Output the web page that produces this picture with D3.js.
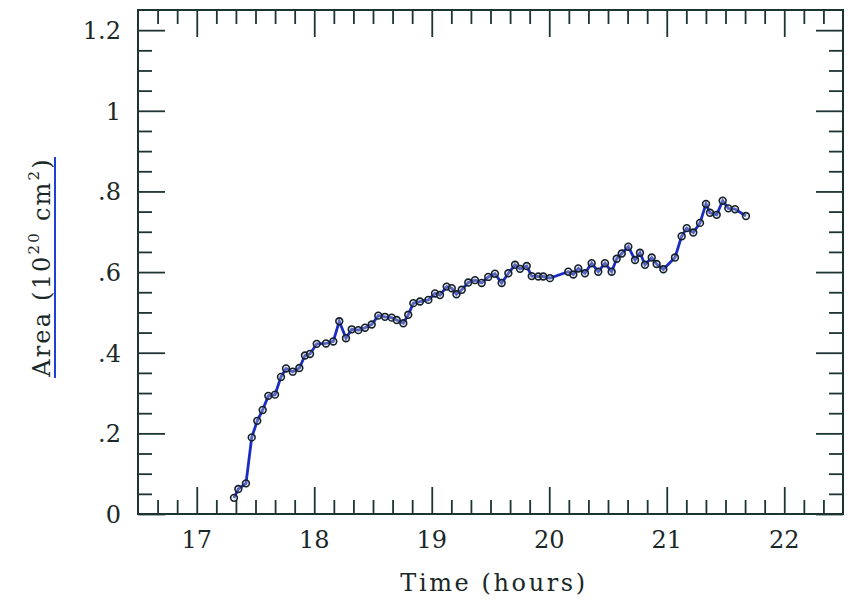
<!DOCTYPE html>
<html>
<head>
<meta charset="utf-8">
<script src="https://cdn.jsdelivr.net/npm/d3@7"></script>
<style>
  body { margin: 0; background: #fff; }
  svg text { font-family: "DejaVu Serif", serif; fill: #1a2828; }
</style>
</head>
<body>
<svg id="chart" width="857" height="604"></svg>
<script>
// time in hours, area in 10^20 cm^2
const times = [17.317, 17.354, 17.419, 17.468, 17.515, 17.561, 17.609, 17.666, 17.717, 17.760,
  17.817, 17.873, 17.921, 17.964, 18.021, 18.100, 18.162, 18.213, 18.270, 18.319,
  18.375, 18.432, 18.489, 18.545, 18.602, 18.659, 18.702, 18.758, 18.800, 18.843,
  18.900, 18.971, 19.028, 19.070, 19.127, 19.170, 19.210, 19.255, 19.311, 19.368,
  19.425, 19.481, 19.538, 19.595, 19.652, 19.709, 19.751, 19.808, 19.851, 19.907,
  19.949, 20.006, 20.162, 20.205, 20.247, 20.304, 20.361, 20.417, 20.474, 20.531,
  20.574, 20.617, 20.673, 20.730, 20.772, 20.815, 20.872, 20.914, 20.971, 21.070,
  21.127, 21.170, 21.226, 21.283, 21.334, 21.368, 21.425, 21.476, 21.524, 21.581, 21.674];
const areas = [0.040, 0.062, 0.076, 0.190, 0.231, 0.258, 0.293, 0.296, 0.340, 0.361,
  0.353, 0.362, 0.393, 0.397, 0.422, 0.423, 0.428, 0.478, 0.436, 0.458,
  0.456, 0.462, 0.470, 0.492, 0.489, 0.487, 0.481, 0.473, 0.494, 0.523,
  0.527, 0.531, 0.547, 0.543, 0.564, 0.560, 0.545, 0.556, 0.574, 0.580,
  0.573, 0.588, 0.596, 0.573, 0.597, 0.618, 0.608, 0.615, 0.590, 0.589,
  0.589, 0.585, 0.601, 0.594, 0.609, 0.597, 0.622, 0.601, 0.622, 0.601,
  0.633, 0.646, 0.663, 0.630, 0.648, 0.618, 0.636, 0.620, 0.607, 0.636,
  0.689, 0.709, 0.698, 0.722, 0.769, 0.747, 0.742, 0.777, 0.758, 0.756, 0.739];

const xTicks = [17, 18, 19, 20, 21, 22];
const xLabels = ["17", "18", "19", "20", "21", "22"];
const yTicks = [0, 0.2, 0.4, 0.6, 0.8, 1.0, 1.2];
const yLabels = ["0", ".2", ".4", ".6", ".8", "1", "1.2"];

const svg = d3.select('#chart');
const pLeft = 138, pRight = 843, pTop = 10, pBottom = 514;
const ink = "#1c3434";

const x = d3.scaleLinear().domain([16.5, 22.5]).range([pLeft, pRight]);
const y = d3.scaleLinear().domain([0, 1.25]).range([pBottom, pTop]);

// minor ticks every 10 min and every 0.05
const xMinor = d3.range(16.5 + 1/6, 22.5 - 0.01, 1/6).filter(v => Math.abs(v - Math.round(v)) > 0.01);
const yMinor = d3.range(0.05, 1.249, 0.05).filter(v => Math.abs(v / 0.2 - Math.round(v / 0.2)) > 0.01);

function drawAxis(axis, tx, ty) {
  const g = svg.append('g').attr('transform', `translate(${tx},${ty})`).call(axis);
  g.select('.domain').remove();
  g.selectAll('line').attr('stroke', ink).attr('stroke-width', 1.8);
  g.selectAll('text').remove();
}

drawAxis(d3.axisBottom(x).tickValues(xTicks).tickSize(-27), 0, pBottom);
drawAxis(d3.axisBottom(x).tickValues(xMinor).tickSize(-14), 0, pBottom);
drawAxis(d3.axisTop(x).tickValues(xTicks).tickSize(-27), 0, pTop);
drawAxis(d3.axisTop(x).tickValues(xMinor).tickSize(-14), 0, pTop);
drawAxis(d3.axisLeft(y).tickValues(yTicks).tickSize(-27), pLeft, 0);
drawAxis(d3.axisLeft(y).tickValues(yMinor).tickSize(-14), pLeft, 0);
drawAxis(d3.axisRight(y).tickValues(yTicks).tickSize(-27), pRight, 0);
drawAxis(d3.axisRight(y).tickValues(yMinor).tickSize(-14), pRight, 0);

svg.append('rect')
  .attr('x', pLeft).attr('y', pTop)
  .attr('width', pRight - pLeft).attr('height', pBottom - pTop)
  .attr('fill', 'none').attr('stroke', ink).attr('stroke-width', 2);

// tick labels
svg.selectAll('.xlab').data(xTicks).enter().append('text')
  .attr('class', 'xlab')
  .attr('x', d => x(d)).attr('y', 548)
  .attr('text-anchor', 'middle')
  .attr('font-size', 24)
  .text((d, i) => xLabels[i]);

svg.selectAll('.ylab').data(yTicks).enter().append('text')
  .attr('class', 'ylab')
  .attr('x', 121).attr('y', d => y(d) + 9)
  .attr('text-anchor', 'end')
  .attr('font-size', 24)
  .text((d, i) => yLabels[i]);

// axis titles
svg.append('text')
  .attr('x', 494).attr('y', 591)
  .attr('text-anchor', 'middle')
  .attr('font-size', 24)
  .attr('letter-spacing', 2.6)
  .text('Time (hours)');

const yt = svg.append('text')
  .attr('transform', 'translate(50,267) rotate(-90)')
  .attr('text-anchor', 'middle')
  .attr('font-size', 24)
  .attr('letter-spacing', 2.2);
yt.append('tspan').text('Area (10');
yt.append('tspan').attr('font-size', 15).attr('dy', -11).text('20');
yt.append('tspan').attr('dy', 11).text(' cm');
yt.append('tspan').attr('font-size', 15).attr('dy', -11).text('2');
yt.append('tspan').attr('dy', 11).text(')');

// blue pen mark beside the y title
svg.append('line')
  .attr('x1', 55).attr('x2', 55).attr('y1', 157).attr('y2', 378)
  .attr('stroke', '#1f3fd8').attr('stroke-width', 2);

// data
const pts = times.map((t, i) => ({t: t, a: areas[i]}));

svg.append('path')
  .datum(pts)
  .attr('fill', 'none')
  .attr('stroke', '#1a2cc4')
  .attr('stroke-width', 2.8)
  .attr('d', d3.line().x(d => x(d.t)).y(d => y(d.a)));

svg.selectAll('.pt').data(pts).enter().append('circle')
  .attr('class', 'pt')
  .attr('cx', d => x(d.t)).attr('cy', d => y(d.a))
  .attr('r', 3.4)
  .attr('fill', '#c8c8c8').attr('fill-opacity', 0.35)
  .attr('stroke', '#14202a').attr('stroke-width', 1.6);
</script>
</body>
</html>
